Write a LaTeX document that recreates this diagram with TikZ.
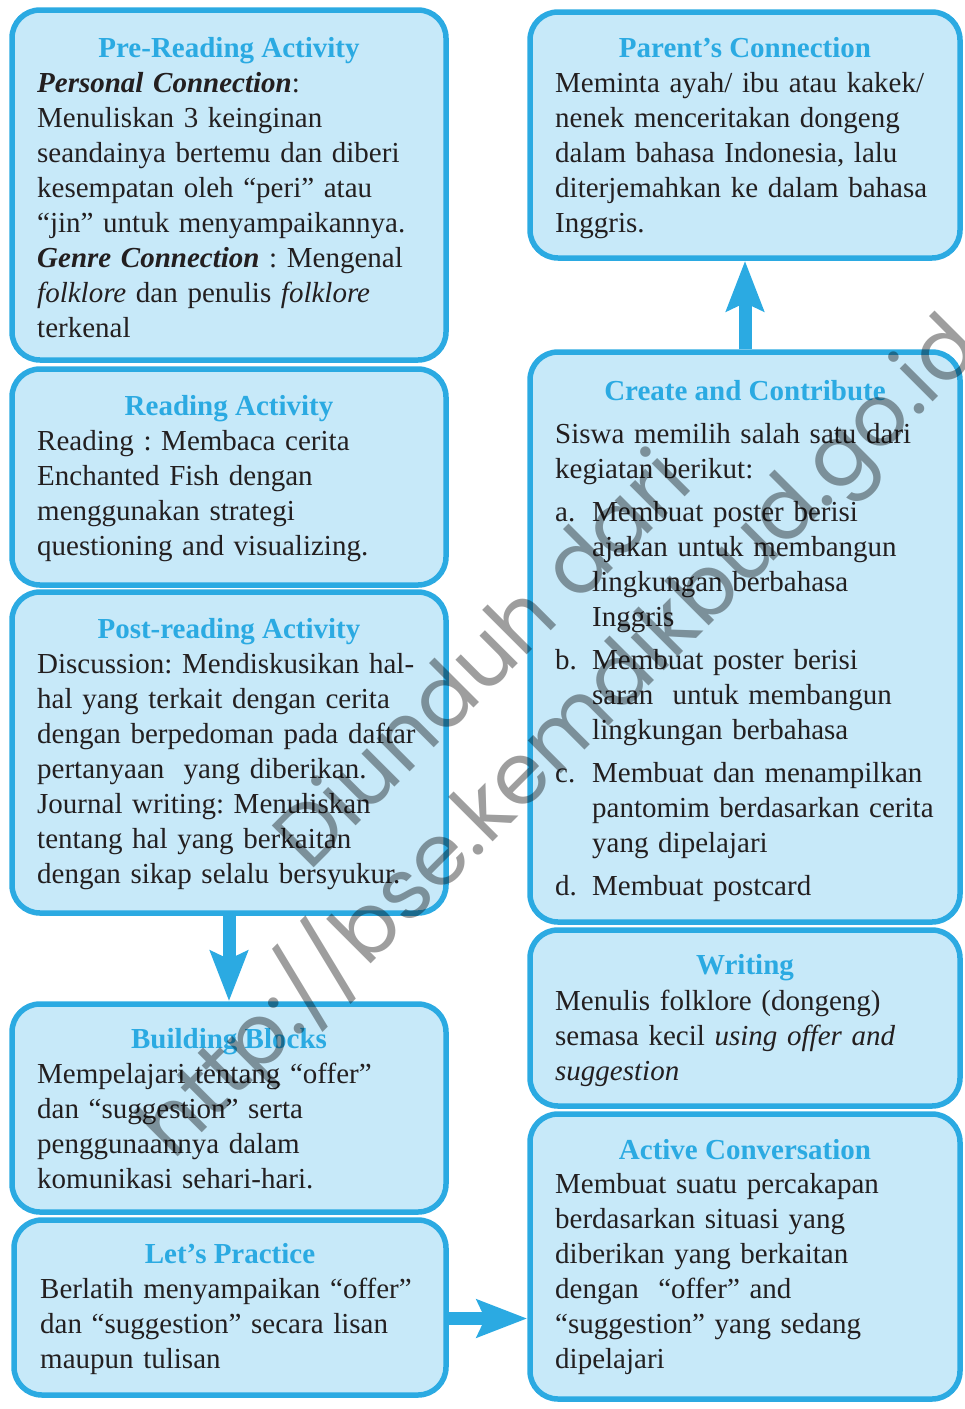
\documentclass[tikz,border=0pt]{standalone}
\usepackage{fontspec}
\setmainfont{Liberation Serif}
\newfontfamily\wmfont{Poppins}
\usetikzlibrary{arrows.meta,positioning}
\definecolor{boxline}{RGB}{43,170,226}
\definecolor{boxfill}{RGB}{199,233,249}
\definecolor{ink}{RGB}{35,31,32}
\newcommand{\itm}[1]{\makebox[37pt][l]{#1}}
\newcommand{\ind}{\hspace*{37pt}}
\frenchspacing

\begin{document}
\begin{tikzpicture}[x=1pt,y=-1pt,
  panel/.style={draw=boxline,fill=boxfill,line width=5.5pt,rounded corners=28pt,inner sep=0pt},
  head/.style={anchor=base,inner sep=0pt,text=boxline,font=\fontsize{29}{35}\selectfont\bfseries},
  body/.style={anchor=base west,inner sep=0pt,text=ink,text width=400pt,align=left,font=\fontsize{29}{35}\selectfont},
  flow/.style={boxline,line width=13pt,-{Stealth[length=50pt,width=37pt,inset=8pt]}}]
\useasboundingbox (0,0) rectangle (965,1409);
\node[panel,minimum width=434pt,minimum height=350pt] (pre) at (229,185) {};
\node[panel,minimum width=434pt,minimum height=216pt] (read) at (229,477) {};
\node[panel,minimum width=434pt,minimum height=321pt] (post) at (229,752.5) {};
\node[panel,minimum width=434pt,minimum height=208pt] (build) at (229,1108) {};
\node[panel,minimum width=432pt,minimum height=175pt] (practice) at (230,1307.5) {};
\node[panel,minimum width=430pt,minimum height=246pt] (parent) at (745,135) {};
\node[panel,minimum width=430pt,minimum height=570pt] (create) at (745,637) {};
\node[panel,minimum width=430pt,minimum height=176pt] (writing) at (745,1018) {};
\node[panel,minimum width=430pt,minimum height=285pt] (active) at (745,1256.5) {};

\node[head] (preH) at (229,57) {Pre-Reading Activity};
\node[body] (preB) at (37,92) {\textbf{\textit{Personal Connection}}:\\
  Menuliskan 3 keinginan\\
  seandainya bertemu dan diberi\\
  kesempatan oleh “peri” atau\\
  “jin” untuk menyampaikannya.\\
  \textbf{\textit{Genre Connection}} : Mengenal\\
  \textit{folklore} dan penulis \textit{folklore}\\
  terkenal};
\node[head] (readH) at (229,415) {Reading Activity};
\node[body] (readB) at (37,450) {Reading : Membaca cerita\\
  Enchanted Fish dengan\\
  menggunakan strategi\\
  questioning and visualizing.};
\node[head] (postH) at (229,638) {Post-reading Activity};
\node[body] (postB) at (37,673) {Discussion: Mendiskusikan hal-\\
  hal yang terkait dengan cerita\\
  dengan berpedoman pada daftar\\
  pertanyaan\ \ yang diberikan.\\
  Journal writing: Menuliskan\\
  tentang hal yang berkaitan\\
  dengan sikap selalu bersyukur.};
\node[head] (buildH) at (229,1048) {Building Blocks};
\node[body] (buildB) at (37,1083) {Mempelajari tentang “offer”\\
  dan “suggestion” serta\\
  penggunaannya dalam\\
  komunikasi sehari-hari.};
\node[head] (practiceH) at (230,1263) {Let’s Practice};
\node[body] (practiceB) at (40,1298) {Berlatih menyampaikan “offer”\\
  dan “suggestion” secara lisan\\
  maupun tulisan};
\node[head] (parentH) at (745,57) {Parent’s Connection};
\node[body] (parentB) at (555,92) {Meminta ayah/ ibu atau kakek/\\
  nenek menceritakan dongeng\\
  dalam bahasa Indonesia, lalu\\
  diterjemahkan ke dalam bahasa\\
  Inggris.};
\node[head] (createH) at (745,400) {Create and Contribute};
\node[body] (createB) at (555,443) {Siswa memilih salah satu dari\\
  kegiatan berikut:\\[8pt]
  \itm{a.}Membuat poster berisi\\
  \ind ajakan untuk membangun\\
  \ind lingkungan berbahasa\\
  \ind Inggris\\[8pt]
  \itm{b.}Membuat poster berisi\\
  \ind saran\ \ untuk membangun\\
  \ind lingkungan berbahasa\\[8pt]
  \itm{c.}Membuat dan menampilkan\\
  \ind pantomim berdasarkan cerita\\
  \ind yang dipelajari\\[8pt]
  \itm{d.}Membuat postcard};
\node[head] (writingH) at (745,974) {Writing};
\node[body] (writingB) at (555,1010) {Menulis folklore (dongeng)\\
  semasa kecil \textit{using offer and}\\
  \textit{suggestion}};
\node[head] (activeH) at (745,1159) {Active Conversation};
\node[body] (activeB) at (555,1193) {Membuat suatu percakapan\\
  berdasarkan situasi yang\\
  diberikan yang berkaitan\\
  dengan\ \ “offer” and\\
  “suggestion” yang sedang\\
  dipelajari};

\draw[flow] (create) -- (parent);
\draw[flow] (post) -- (build);
\draw[flow] ([yshift=-11pt]practice.east) -- ([yshift=-11pt]practice.east -| active.west);

\node[rotate=45,inner sep=0pt,opacity=0.38,align=center,font=\wmfont\fontsize{85}{108}\selectfont] (mark) at (526,703) {Diunduh dari\\http://bse.kemdikbud.go.id};
\end{tikzpicture}
\end{document}
